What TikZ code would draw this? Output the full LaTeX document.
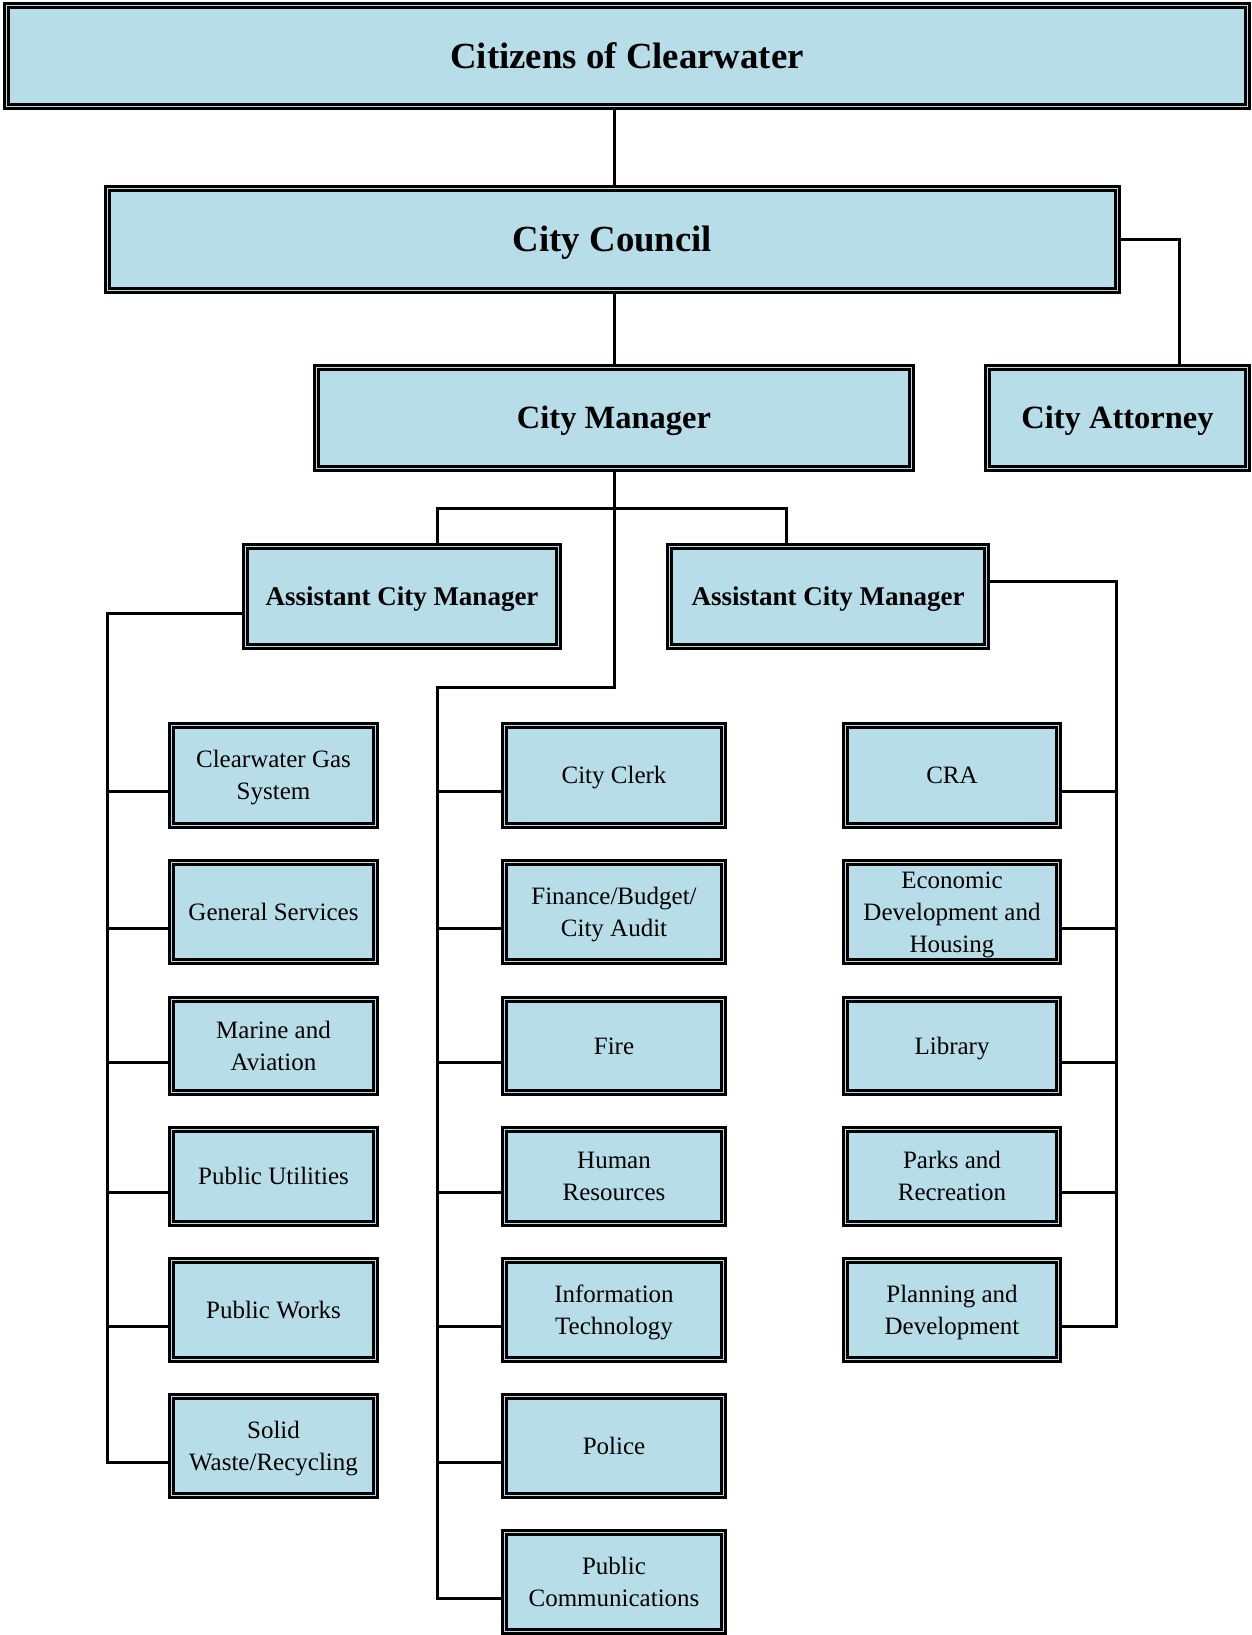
\documentclass[tikz,border=0pt]{standalone}
\usepackage{fontspec}
\setmainfont{Liberation Serif}
\definecolor{boxblue}{HTML}{B7DDE8}
\newcommand\fs{\rule{0pt}{0.891em}}
\tikzset{
  box/.style={draw=black, line width=3pt, fill=boxblue, inner sep=0pt, align=center,
    font=\fontsize{25}{32}\selectfont,
    execute at begin node={\rule{0pt}{0.891em}},
    execute at end node={\rule[-0.216em]{0pt}{0pt}},
    path picture={\draw[black, line width=2.8pt]
      ([shift={(4.1pt,-4.1pt)}]path picture bounding box.north west) rectangle
      ([shift={(-4.1pt,4.1pt)}]path picture bounding box.south east);}},
  headA/.style={box, font=\bfseries\fontsize{36.8}{40}\selectfont},
  headB/.style={box, font=\bfseries\fontsize{32.5}{36}\selectfont},
  headC/.style={box, font=\bfseries\fontsize{27}{31}\selectfont},
  colL/.style={box, minimum width=208pt},
  colM/.style={box, minimum width=223pt},
  colR/.style={box, minimum width=217pt},
  rowA/.style={minimum height=104pt},
  rowB/.style={minimum height=103pt},
  rowC/.style={minimum height=97pt},
  rowD/.style={minimum height=98pt},
  link/.style={draw=black, line width=3pt}
}
\begin{document}
\begin{tikzpicture}[x=1pt, y=-1pt]
\useasboundingbox (0,0) rectangle (1252,1635);

% spine x positions
\coordinate (ls) at (107,0);
\coordinate (ms) at (437,0);
\coordinate (rs) at (1116,0);
\coordinate (attk) at (1179,239.5);
\coordinate (bl) at (437,508);
\coordinate (br) at (786,508);

% top boxes
\node[headA, minimum width=1245pt, minimum height=105pt] (cit) at (627,56) {Citizens of Clearwater};
\node[headA, minimum width=1014pt, minimum height=106pt] (cou) at (612.5,239.5) {City Council};
\node[headB, minimum width=599pt, minimum height=105pt] (man) at (614,418) {City Manager};
\node[headB, minimum width=264pt, minimum height=105pt] (att) at (1117.5,418) {City Attorney};
\node[headC, minimum width=317pt, minimum height=104pt] (acmL) at (402,596.5) {Assistant City Manager};
\node[headC, minimum width=321pt, minimum height=104pt] (acmR) at (828,596.5) {Assistant City Manager};

% left column
\node[colL, rowA] (cg) at (273.5,775.5) {\fs Clearwater Gas\\System};
\node[colL, rowB] (gs) at (273.5,912) {General Services};
\node[colL, rowC] (ma) at (273.5,1046) {\fs Marine and\\Aviation};
\node[colL, rowD] (pu) at (273.5,1176.5) {Public Utilities};
\node[colL, rowB] (pw) at (273.5,1310) {Public Works};
\node[colL, rowB] (sw) at (273.5,1446) {\fs Solid\\Waste/Recycling};

% middle column
\node[colM, rowA] (cc) at (614,775.5) {City Clerk};
\node[colM, rowB] (fb) at (614,912) {\fs Finance/Budget/\\City Audit};
\node[colM, rowC] (fi) at (614,1046) {Fire};
\node[colM, rowD] (hr) at (614,1176.5) {\fs Human\\Resources};
\node[colM, rowB] (it) at (614,1310) {\fs Information\\Technology};
\node[colM, rowB] (po) at (614,1446) {Police};
\node[colM, rowB] (pc) at (614,1582) {\fs Public\\Communications};

% right column
\node[colR, rowA] (cra) at (952,775.5) {CRA};
\node[colR, rowB] (ed) at (952,912) {\fs Economic\\Development and\\Housing};
\node[colR, rowC] (li) at (952,1046) {Library};
\node[colR, rowD] (pr) at (952,1176.5) {\fs Parks and\\Recreation};
\node[colR, rowB] (pd) at (952,1310) {\fs Planning and\\Development};

% connector attach points
\foreach \n in {cg,gs,ma,pu,pw,sw,cc,fb,fi,hr,it,po,pc}
  \path ([yshift=-16pt]\n.west) coordinate (\n c);
\foreach \n in {cra,ed,li,pr,pd}
  \path ([yshift=-16pt]\n.east) coordinate (\n c);

% top connectors
\draw[link] (man.north |- cit.south) -- (man.north |- cou.north);
\draw[link] (man.north |- cou.south) -- (man.north);
\draw[link] (cou.east) -- (attk) -- (attk |- att.north);

% bracket to assistant managers
\draw[link] (bl |- acmL.north) -- (bl) -- (br) -- (br |- acmR.north);

% middle spine
\draw[link] (man.south) -- (man.south |- 0,687) -| (ms |- pcc) -- (pcc);
\foreach \n in {cc,fb,fi,hr,it,po}
  \draw[link] (\n c) -- (\n c -| ms);

% left spine
\draw[link] ([yshift=-17pt]acmL.west) -| (ls |- swc) -- (swc);
\foreach \n in {cg,gs,ma,pu,pw}
  \draw[link] (\n c) -- (\n c -| ls);

% right spine
\draw[link] ([yshift=15.5pt]acmR.east) -| (rs |- pdc) -- (pdc);
\foreach \n in {cra,ed,li,pr}
  \draw[link] (\n c) -- (\n c -| rs);
\end{tikzpicture}
\end{document}
